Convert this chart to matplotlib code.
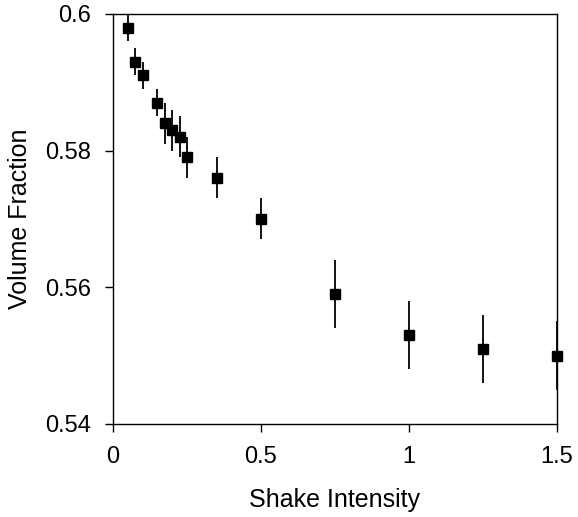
import matplotlib
matplotlib.use("Agg")
import matplotlib.pyplot as plt

# shake intensity vs packing fraction
shake = [0.05, 0.075, 0.1, 0.15, 0.175, 0.2, 0.225, 0.25, 0.35, 0.5, 0.75, 1.0, 1.25, 1.5]
volfrac = [0.598, 0.593, 0.591, 0.587, 0.584, 0.583, 0.582, 0.579, 0.576, 0.570,
           0.559, 0.553, 0.551, 0.550]
volerr = [0.002, 0.002, 0.002, 0.002, 0.003, 0.003, 0.003, 0.003, 0.003, 0.003,
          0.005, 0.005, 0.005, 0.005]

xticks = [0, 0.5, 1, 1.5]
xticklabels = ["0", "0.5", "1", "1.5"]
yticks = [0.54, 0.56, 0.58, 0.6]
yticklabels = ["0.54", "0.56", "0.58", "0.6"]

plt.rcParams["font.family"] = ["Liberation Sans", "DejaVu Sans"]

fig = plt.figure(figsize=(5.78, 5.17), dpi=100)
ax = fig.add_axes([0.1955, 0.180, 0.768, 0.793])

ax.errorbar(shake, volfrac, yerr=volerr, fmt="s", color="black",
            markersize=7, elinewidth=1.3, capsize=0, clip_on=False, zorder=3)

ax.set_xlim(0, 1.5)
ax.set_ylim(0.54, 0.6)
ax.set_xticks(xticks)
ax.set_xticklabels(xticklabels)
ax.set_yticks(yticks)
ax.set_yticklabels(yticklabels)
ax.tick_params(direction="out", length=6, width=1, labelsize=17, pad=10)
for s in ax.spines.values():
  s.set_linewidth(1)

ax.set_xlabel("Shake Intensity", fontsize=18, labelpad=14)
ax.set_ylabel("Volume Fraction", fontsize=18, labelpad=9)

fig.savefig("out.png", dpi=100)
